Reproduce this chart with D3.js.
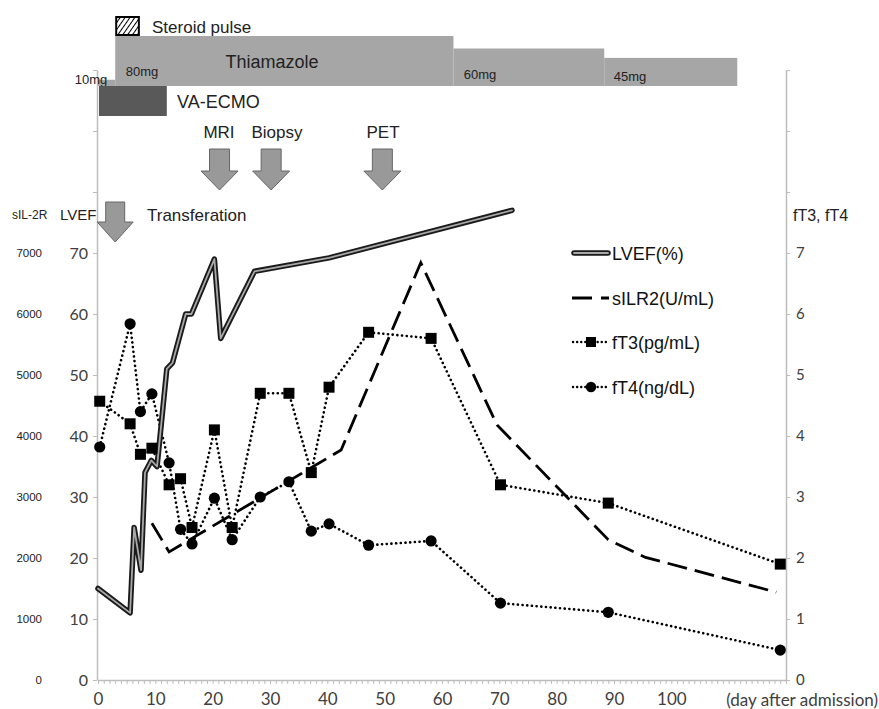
<!DOCTYPE html>
<html><head><meta charset="utf-8">
<script src="https://cdn.jsdelivr.net/npm/d3@7"></script>
<style>
html,body{margin:0;padding:0;background:#fff;}
svg{display:block;}
</style></head>
<body>
<svg id="chart" width="879" height="709"></svg>
<script>
// ---------- DATA ----------
const lvefDays   = [0, 5.6, 6.3, 7.5, 8.2, 9.3, 10.3, 12, 13, 15.3, 16.3, 20.3, 21.4, 27.3, 40.3, 72.2];
const lvefValues = [15, 11, 25, 18, 34, 36, 35, 51, 52, 60, 60, 69, 56, 67, 69.2, 77];

const sil2rDays   = [9.4, 12.4, 42.4, 56.3, 69.6, 89, 95.5, 118.3];
const sil2rValues = [2570, 2100, 3770, 6840, 4180, 2300, 2010, 1440];

const thyroidDays = [0.3, 5.6, 7.4, 9.4, 12.4, 14.4, 16.4, 20.3, 23.4, 28.3, 33.3, 37.2, 40.3, 47.2, 58.1, 70.2, 89, 119];
const ft3Values   = [4.57, 4.2, 3.7, 3.8, 3.2, 3.3, 2.5, 4.1, 2.5, 4.7, 4.7, 3.4, 4.8, 5.7, 5.6, 3.2, 2.9, 1.9];
const ft4Values   = [3.82, 5.84, 4.4, 4.69, 3.56, 2.47, 2.23, 2.98, 2.3, 3.0, 3.25, 2.44, 2.56, 2.21, 2.28, 1.26, 1.11, 0.49];

const xTickLabels     = [0, 10, 20, 30, 40, 50, 60, 70, 80, 90, 100];
const lvefTickLabels  = [0, 10, 20, 30, 40, 50, 60, 70];
const sil2rTickLabels = [0, 1000, 2000, 3000, 4000, 5000, 6000, 7000];
const rightTickLabels = [0, 1, 2, 3, 4, 5, 6, 7];

const thiamazoleStart = [0, 3, 62, 88.3];
const thiamazoleEnd   = [3, 62, 88.3, 111.5];
const thiamazoleDose  = [10, 80, 60, 45];
const thiamazoleLabel = ["10mg", "80mg", "60mg", "45mg"];
const ecmoPeriod      = [0, 12];
const steroidPeriod   = [3, 7.3];

const eventNames = ["Transferation", "MRI", "Biopsy", "PET"];
const eventDays  = [3, 21.2, 30.2, 49.6];

const legendNames = ["LVEF(%)", "sILR2(U/mL)", "fT3(pg/mL)", "fT4(ng/dL)"];

// ---------- SCALES ----------
const svg = d3.select("#chart");
const x   = d3.scaleLinear().domain([0, 120]).range([98, 786]);
const yL  = d3.scaleLinear().domain([0, 100]).range([680, 70]);
const yS  = d3.scaleLinear().domain([0, 10000]).range([680, 70]);
const yR  = d3.scaleLinear().domain([0, 10]).range([680, 70]);
const yDose = d3.scaleLinear().domain([0, 80]).range([86, 36]);

const axisColor = "#bdbdbd";
const numFont = "Lato, 'Open Sans', sans-serif";
const txtFont = "'Liberation Sans', Arial, sans-serif";

// defs: hatch pattern
const defs = svg.append("defs");
const pat = defs.append("pattern").attr("id","hatch").attr("patternUnits","userSpaceOnUse")
  .attr("width",4).attr("height",4).attr("patternTransform","rotate(35)");
pat.append("rect").attr("width",4).attr("height",4).attr("fill","#fff");
pat.append("line").attr("x1",0).attr("y1",0).attr("x2",0).attr("y2",4).attr("stroke","#000").attr("stroke-width",2);

// ---------- AXES ----------
const gL = svg.append("g").attr("transform","translate(97,0)")
  .call(d3.axisLeft(yL).tickValues(d3.range(0,101,10)).tickSize(4).tickSizeOuter(0)
    .tickFormat(d => lvefTickLabels.includes(d) ? d : ""));
gL.select(".domain").attr("stroke",axisColor).attr("stroke-width",1.5);
gL.selectAll(".tick line").attr("stroke",axisColor);
gL.selectAll(".tick text").attr("font-family",numFont).attr("font-size",16).attr("fill","#404040").attr("x",-9);

const gR = svg.append("g").attr("transform","translate(786,0)")
  .call(d3.axisRight(yR).tickValues(d3.range(0,11,1)).tickSize(4).tickSizeOuter(0)
    .tickFormat(d => rightTickLabels.includes(d) ? d : ""));
gR.select(".domain").attr("stroke",axisColor).attr("stroke-width",1.5);
gR.selectAll(".tick line").attr("stroke",axisColor);
gR.selectAll(".tick text").attr("font-family",numFont).attr("font-size",15).attr("fill","#404040").attr("x",10);

const gB = svg.append("g").attr("transform","translate(0,680)")
  .call(d3.axisBottom(x).tickValues(d3.range(0,121,1)).tickSize(4).tickSizeOuter(0)
    .tickFormat(d => xTickLabels.includes(d) ? d : ""));
gB.select(".domain").attr("stroke",axisColor).attr("stroke-width",1.5);
gB.selectAll(".tick line").attr("stroke",axisColor);
gB.selectAll(".tick text").attr("font-family",numFont).attr("font-size",17).attr("fill","#404040").attr("y",13);

svg.append("text").attr("x",878).attr("y",706).attr("text-anchor","end")
  .attr("font-family",numFont).attr("font-size",17).attr("fill","#404040").text("(day after admission)");

// sIL-2R labels (secondary left labels)
svg.append("g").selectAll("text").data(sil2rTickLabels).join("text")
  .attr("x",42).attr("y",d=>yS(d)+4).attr("text-anchor","end")
  .attr("font-family",txtFont).attr("font-size",11.5).attr("fill","#222").text(d=>d);

// axis titles
svg.append("text").attr("x",12).attr("y",219).attr("font-family",txtFont).attr("font-size",12).attr("fill","#222").text("sIL-2R");
svg.append("text").attr("x",60).attr("y",220).attr("font-family",txtFont).attr("font-size",15).attr("fill","#222").text("LVEF");
svg.append("text").attr("x",793).attr("y",221).attr("font-family",txtFont).attr("font-size",16).attr("fill","#222").text("fT3, fT4");

// ---------- TREATMENT BARS ----------
const thi = d3.range(thiamazoleDose.length);
svg.append("g").selectAll("rect").data(thi).join("rect")
  .attr("x",i=>x(thiamazoleStart[i])).attr("width",i=>x(thiamazoleEnd[i])-x(thiamazoleStart[i]))
  .attr("y",i=>yDose(thiamazoleDose[i])).attr("height",i=>yDose(0)-yDose(thiamazoleDose[i]))
  .attr("fill","#a6a6a6");
const doseLabelPos = [[91,84],[142,76],[480,79],[630,81]];
svg.append("g").selectAll("text").data(thi).join("text")
  .attr("x",i=>doseLabelPos[i][0]).attr("y",i=>doseLabelPos[i][1]).attr("text-anchor","middle")
  .attr("font-family",txtFont).attr("font-size",13).attr("fill","#222").text(i=>thiamazoleLabel[i]);
svg.append("text").attr("x",272).attr("y",68).attr("text-anchor","middle")
  .attr("font-family",txtFont).attr("font-size",18).attr("fill","#222").text("Thiamazole");

svg.append("rect").attr("x",x(ecmoPeriod[0])+1).attr("width",x(ecmoPeriod[1])-x(ecmoPeriod[0])-1)
  .attr("y",86).attr("height",30).attr("fill","#595959");
svg.append("text").attr("x",177).attr("y",108).attr("font-family",txtFont).attr("font-size",18).attr("fill","#222").text("VA-ECMO");

svg.append("rect").attr("x",x(steroidPeriod[0])+1).attr("width",x(steroidPeriod[1])-x(steroidPeriod[0])-2)
  .attr("y",17).attr("height",18).attr("fill","url(#hatch)").attr("stroke","#000").attr("stroke-width",2);
svg.append("text").attr("x",152).attr("y",33).attr("font-family",txtFont).attr("font-size",17).attr("fill","#222").text("Steroid pulse");

// ---------- EVENT ARROWS ----------
function arrowPath(cx, top, headStart, tip, shaftW, headW){
  const s=shaftW/2, h=headW/2;
  return `M${cx-s},${top}L${cx+s},${top}L${cx+s},${headStart}L${cx+h},${headStart}L${cx},${tip}L${cx-h},${headStart}L${cx-s},${headStart}Z`;
}
const ev = d3.range(eventNames.length);
svg.append("g").selectAll("path").data(ev).join("path")
  .attr("d",i=> i===0 ? arrowPath(x(eventDays[i]),202,222,242,19,36) : arrowPath(x(eventDays[i]),149,171,190,20,37))
  .attr("fill","#999").attr("stroke","#666").attr("stroke-width",1);
const evLabelPos = [[147,221,"start"],[219,138,"middle"],[277,138,"middle"],[383,138,"middle"]];
svg.append("g").selectAll("text").data(ev).join("text")
  .attr("x",i=>evLabelPos[i][0]).attr("y",i=>evLabelPos[i][1]).attr("text-anchor",i=>evLabelPos[i][2])
  .attr("font-family",txtFont).attr("font-size",17).attr("fill","#222").text(i=>eventNames[i]);

// ---------- SERIES ----------
const lvefData = lvefDays.map((d,i)=>[d,lvefValues[i]]);
const silData  = sil2rDays.map((d,i)=>[d,sil2rValues[i]]);
const ft3Data  = thyroidDays.map((d,i)=>[d,ft3Values[i]]);
const ft4Data  = thyroidDays.map((d,i)=>[d,ft4Values[i]]);

const lineL = d3.line().x(d=>x(d[0])).y(d=>yL(d[1]));
const lineS = d3.line().x(d=>x(d[0])).y(d=>yS(d[1]));
const lineR = d3.line().x(d=>x(d[0])).y(d=>yR(d[1]));

const dotted = "0.1,4.6";

// fT4
svg.append("path").attr("d",lineR(ft4Data)).attr("fill","none").attr("stroke","#000")
  .attr("stroke-width",2.6).attr("stroke-dasharray",dotted).attr("stroke-linecap","round");
// fT3
svg.append("path").attr("d",lineR(ft3Data)).attr("fill","none").attr("stroke","#000")
  .attr("stroke-width",2.6).attr("stroke-dasharray",dotted).attr("stroke-linecap","round");
// sIL-2R
svg.append("path").attr("d",lineS(silData)).attr("fill","none").attr("stroke","#000")
  .attr("stroke-width",2.8).attr("stroke-dasharray","20,8");
// LVEF double line
svg.append("path").attr("d",lineL(lvefData)).attr("fill","none").attr("stroke","#1a1a1a")
  .attr("stroke-width",5.5).attr("stroke-linejoin","round").attr("stroke-linecap","round");
svg.append("path").attr("d",lineL(lvefData)).attr("fill","none").attr("stroke","#a8a8a8")
  .attr("stroke-width",1.8).attr("stroke-linejoin","round").attr("stroke-linecap","round");

// markers
svg.append("g").selectAll("circle").data(ft4Data).join("circle")
  .attr("cx",d=>x(d[0])).attr("cy",d=>yR(d[1])).attr("r",5.6).attr("fill","#000");
svg.append("g").selectAll("rect").data(ft3Data).join("rect")
  .attr("x",d=>x(d[0])-5.5).attr("y",d=>yR(d[1])-5.5).attr("width",11).attr("height",11).attr("fill","#000");

// ---------- LEGEND ----------
const legY = [253, 298, 342, 387];
const lg = svg.append("g");
// LVEF
lg.append("line").attr("x1",574).attr("x2",608).attr("y1",legY[0]).attr("y2",legY[0])
  .attr("stroke","#1a1a1a").attr("stroke-width",5.5).attr("stroke-linecap","round");
lg.append("line").attr("x1",574).attr("x2",608).attr("y1",legY[0]).attr("y2",legY[0])
  .attr("stroke","#a8a8a8").attr("stroke-width",1.8).attr("stroke-linecap","round");
// sIL2R
lg.append("line").attr("x1",572).attr("x2",609).attr("y1",legY[1]).attr("y2",legY[1])
  .attr("stroke","#000").attr("stroke-width",2.8).attr("stroke-dasharray","20,9");
// fT3
lg.append("line").attr("x1",573).attr("x2",609).attr("y1",legY[2]).attr("y2",legY[2])
  .attr("stroke","#000").attr("stroke-width",2.4).attr("stroke-dasharray","0.1,4").attr("stroke-linecap","round");
lg.append("rect").attr("x",586).attr("y",legY[2]-5).attr("width",10).attr("height",10).attr("fill","#000");
// fT4
lg.append("line").attr("x1",573).attr("x2",609).attr("y1",legY[3]).attr("y2",legY[3])
  .attr("stroke","#000").attr("stroke-width",2.4).attr("stroke-dasharray","0.1,4").attr("stroke-linecap","round");
lg.append("circle").attr("cx",591).attr("cy",legY[3]).attr("r",5.2).attr("fill","#000");
lg.selectAll("text").data(legendNames).join("text")
  .attr("x",612).attr("y",(d,i)=>legY[i]+6.5).attr("font-family",txtFont).attr("font-size",18).attr("fill","#111").text(d=>d);
</script>
</body></html>
